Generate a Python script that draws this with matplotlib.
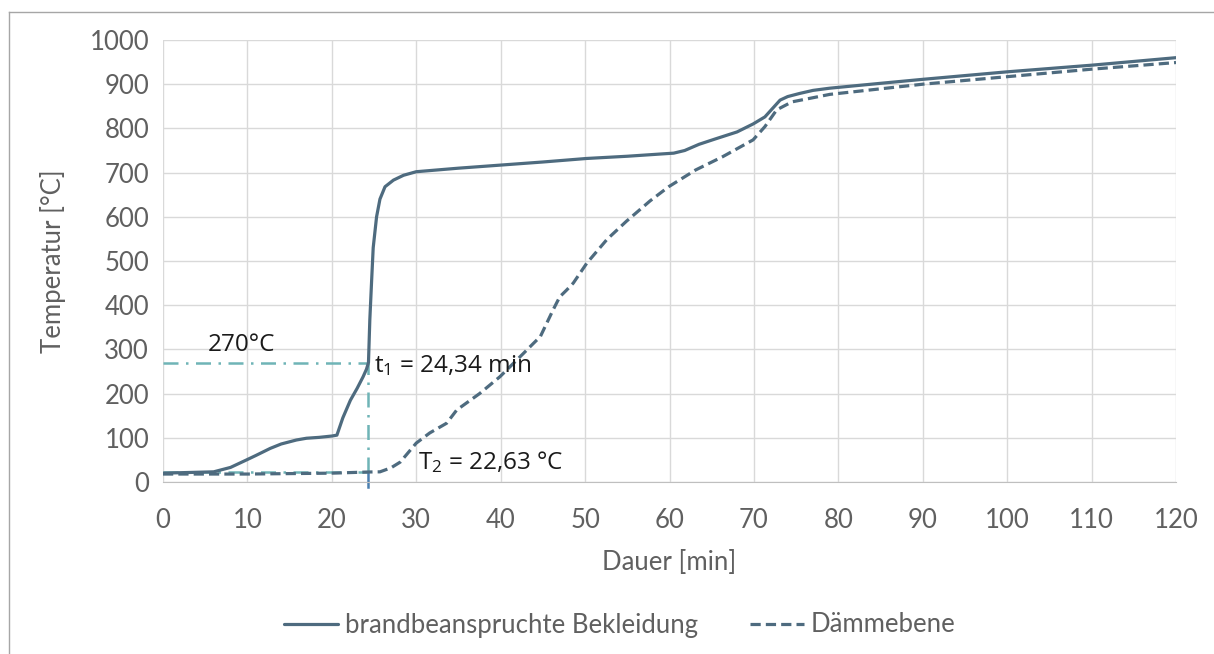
import matplotlib
matplotlib.use("Agg")
import matplotlib.pyplot as plt
from matplotlib.lines import Line2D

# ---- data ----
t_bekl = [0, 6, 8, 9.9, 11, 12.7, 14, 15.8, 17, 18.5, 20, 20.6, 21.3, 22.2, 23, 23.7, 24.1, 24.34,
          24.5, 24.7, 24.9, 25.3, 25.7, 26.3, 27.3, 28.5, 30, 35, 40, 45, 50.2, 55, 58.9, 60.5,
          61.8, 63.5, 65.4, 68, 69.9, 71.3, 72.2, 73.1, 74, 75.4, 77, 79, 85, 90, 100, 110, 120]
T_bekl = [20, 23, 33, 50, 60, 76, 86, 95, 99, 101, 104, 106, 145, 185, 212, 238, 255, 270,
          367, 450, 530, 600, 640, 668, 683, 694, 702, 710, 717, 724, 732, 737, 742, 744,
          750, 764, 776, 792, 810, 826, 845, 864, 872, 879, 886, 891, 902, 911, 928, 943, 960]

t_daemm = [0, 10, 20, 24.34, 25.7, 27, 28.1, 30, 31.6, 33.6, 34.8, 37.5, 39.9, 42.7, 43.9, 44.7,
           46.2, 47.0, 47.8, 48.6, 50.2, 52.6, 54.9, 57.7, 59.9, 63.1, 66.3, 69.9, 71.3, 72.7,
           74.5, 79, 90, 100, 110, 120]
T_daemm = [18, 18, 20, 22.63, 23, 32, 45, 88, 111, 133, 163, 200, 238, 291, 314, 329,
           389, 419, 434, 450, 495, 549, 590, 636, 668, 706, 736, 774, 804, 842,
           860, 877, 900, 917, 934, 949]

x_ticks = list(range(0, 121, 10))
y_ticks = list(range(0, 1001, 100))
t1 = 24.34
T2 = 22.63
T_krit = 270

plt.rcParams['mathtext.fontset'] = 'custom'
plt.rcParams['mathtext.rm'] = 'Open Sans'
plt.rcParams['mathtext.it'] = 'Open Sans:italic'

line_col = '#4e6b7f'
ref_col = '#6fb4b6'
tick_col = '#606060'
gray_font = {'family': 'Lato', 'weight': 'normal'}

fig = plt.figure(figsize=(12.14, 6.54), dpi=100)
ax = fig.add_axes([163/1214, 1-482/654, (1176-163)/1214, (482-40)/654])

ax.plot(t_bekl, T_bekl, color=line_col, lw=2.3, solid_capstyle='round',
        label='brandbeanspruchte Bekleidung', zorder=3)
ax.plot(t_daemm, T_daemm, color=line_col, lw=2.3, ls=(0, (3.2, 1.6)),
        label='Dämmebene', zorder=3)

# reference lines
ax.plot([0, t1], [T_krit, T_krit], color=ref_col, lw=1.8, ls=(0, (6, 3, 1, 3)), zorder=2)
ax.plot([t1, t1], [T2, T_krit], color=ref_col, lw=1.8, ls=(0, (6, 3, 1, 3)), zorder=2)
ax.plot([0, t1], [T2, T2], color=ref_col, lw=1.8, ls=(0, (6, 3, 1, 3)), zorder=2)
ax.plot([t1, t1], [-11, T2], color='#4a7fb0', lw=1.8, zorder=2, clip_on=False)

ax.set_xlim(0, 120)
ax.set_ylim(0, 1000)
ax.set_xticks(x_ticks)
ax.set_yticks(y_ticks)
ax.grid(True, color='#d9d9d9', lw=1)
ax.set_axisbelow(True)
for s in ['top', 'right', 'left']:
    ax.spines[s].set_visible(False)
ax.spines['bottom'].set_color('#bfbfbf')
ax.tick_params(axis='y', length=0, labelsize=18.5, colors=tick_col, pad=10)
ax.tick_params(axis='x', length=0, labelsize=18.5, colors=tick_col, pad=19)
for lab in ax.get_xticklabels() + ax.get_yticklabels():
    lab.set_fontfamily('Lato')
    lab.set_fontweight('normal')
ax.set_xlabel('Dauer [min]', fontsize=18.5, color=tick_col, labelpad=12, **gray_font)
ax.set_ylabel('Temperatur [°C]', fontsize=18.5, color=tick_col, labelpad=17, **gray_font)

# annotations
ax.text(5.3, 283, '270°C', fontsize=17.5, family='Open Sans', color='#1a1a1a', va='bottom')
ax.text(25.0, 263, 't$_1$ = 24,34 min', fontsize=17.5, family='Open Sans', color='#1a1a1a', va='center')
ax.text(30.2, 46, 'T$_2$ = 22,63 °C', fontsize=17.5, family='Open Sans', color='#1a1a1a', va='center')

leg = fig.legend(loc='center', bbox_to_anchor=(620/1214, 1-625/654), ncol=2, frameon=False,
                 prop={'family': 'Lato', 'weight': 'normal', 'size': 18.5},
                 handlelength=2.1, handletextpad=0.28, columnspacing=2.0)
for t in leg.get_texts():
    t.set_color(tick_col)

# figure frame (top and left edges)
fig.add_artist(Line2D([9/1214, 1], [1-12/654, 1-12/654], color='#a6a6a6', lw=1, transform=fig.transFigure))
fig.add_artist(Line2D([9/1214, 9/1214], [0, 1-12/654], color='#a6a6a6', lw=1, transform=fig.transFigure))

fig.savefig('out.png', dpi=100)
